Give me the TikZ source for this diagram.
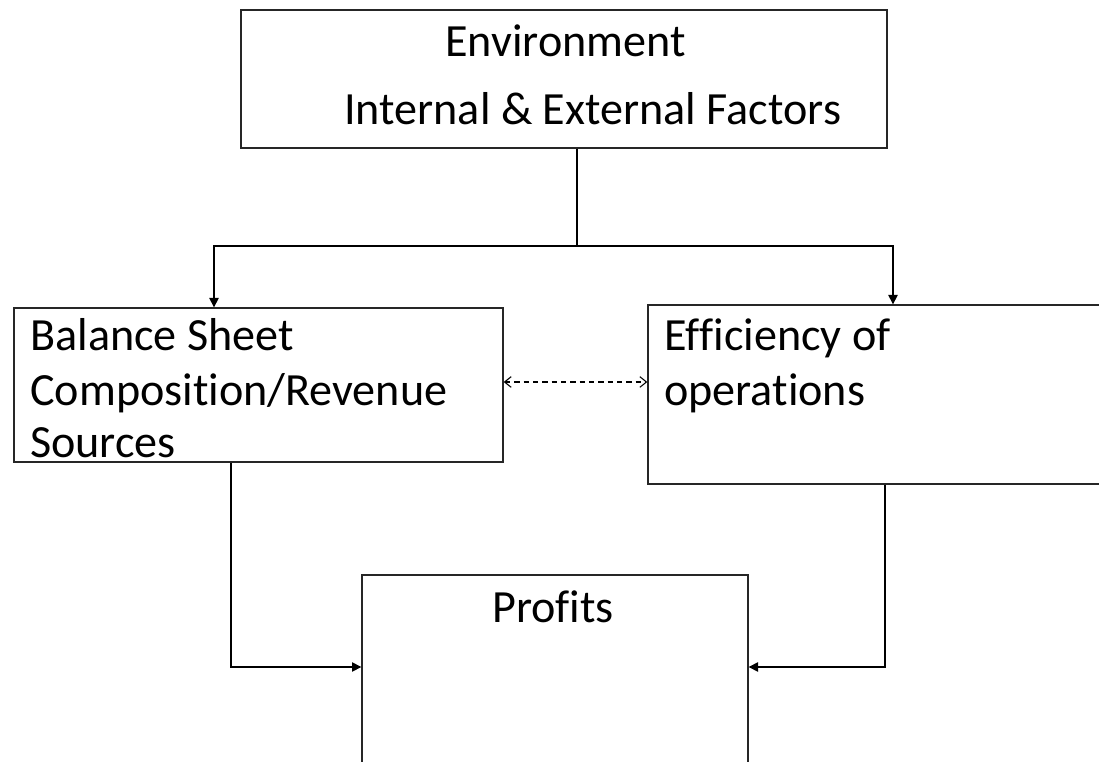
\documentclass[tikz,border=0pt]{standalone}
\usepackage{fontspec}
\setmainfont{Carlito}[Ligatures=NoCommon]
\usetikzlibrary{arrows.meta}
\newcommand{\nolig}{\kern0pt }
\begin{document}
\begin{tikzpicture}[x=0.75pt,y=-0.75pt,
  box/.style={draw=black!85,line width=1pt,fill=white,inner sep=0pt},
  lbl/.style={anchor=base west,inner sep=0pt,font=\fontsize{34.6}{40}\selectfont},
  flow/.style={line width=1pt,-{Triangle[length=7pt,width=7pt]}},
  link/.style={line width=1pt},
  both/.style={line width=0.8pt,dashed,dash pattern=on 4pt off 3pt,{Straight Barb[length=5pt,width=8pt]}-{Straight Barb[length=5pt,width=8pt]}}]
\useasboundingbox (0,0) rectangle (1099,762);
\clip (0,0) rectangle (1099,762);
\fill[white] (0,0) rectangle (1099,762);

% boxes
\node[box,minimum width=484.5pt,minimum height=103.5pt] (env) at (564,79) {};
\node[box,minimum width=366.75pt,minimum height=115.5pt] (bal) at (258.5,385) {};
\node[box,minimum width=346.5pt,minimum height=134.25pt] (eff) at (879,394.5) {};
\node[box,minimum width=289.5pt,minimum height=153.75pt] (prof) at (555,677.5) {};

% texts
\node[lbl] (envA) at (445,57) {Environment};
\node[lbl] (envB) at (344,125) {Internal \& External Factors};
\node[lbl] (balA) at (30,351) {Balance Sheet};
\node[lbl] (balB) at (30,406) {Composition/Revenue};
\node[lbl] (balC) at (30,458) {Sources};
\node[lbl] (effA) at (664,351) {Ef\nolig f\nolig iciency of};
\node[lbl] (effB) at (664,406) {operations};
\node[lbl] (profA) at (492,622) {Prof\nolig its};

% routing points
\coordinate (split) at (577,246);
\coordinate (balIn) at (214,0);
\coordinate (effIn) at (893,0);
\coordinate (balOut) at (231,0);
\coordinate (effOut) at (885,0);
\coordinate (joinY) at (0,667);
\coordinate (midY) at (0,382);

% connectors
\draw[link] (env.south -| split) -- (split);
\draw[flow] (split) -| (bal.north -| balIn);
\draw[flow] (split) -| (eff.north -| effIn);
\draw[both] (bal.east |- midY) -- (eff.west |- midY);
\draw[flow] (bal.south -| balOut) -- (balOut |- joinY) -- (prof.west |- joinY);
\draw[flow] (eff.south -| effOut) -- (effOut |- joinY) -- (prof.east |- joinY);
\end{tikzpicture}
\end{document}
